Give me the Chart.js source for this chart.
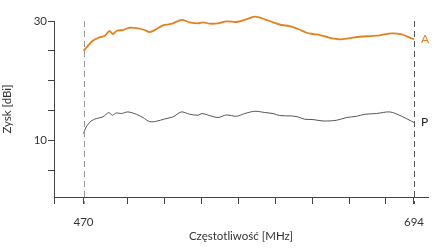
<!DOCTYPE html>
<html>
<head>
<meta charset="utf-8">
<script src="https://cdn.jsdelivr.net/npm/chart.js@4.4.1/dist/chart.umd.min.js"></script>
<style>
  html, body { margin: 0; padding: 0; background: #fff; }
  #wrap { width: 447px; height: 250px; }
</style>
</head>
<body>
<div id="wrap"><canvas id="chart"></canvas></div>
<script>
// krzywa A (pomarańczowa)
const freqA = [470, 476.3, 480.9, 484.3, 487.6, 489.9, 492.6, 496.7, 501.2, 506.9, 511.4, 514.8, 519.3, 523.8, 529.5,
  536.3, 542, 547.6, 551, 555.5, 561.2, 566.9, 573.7, 579.3, 586.1, 592.9, 598.5, 604.2, 609.8, 615.5, 621.2,
  625.6, 630.2, 637, 643.8, 650.6, 657.3, 664.1, 670.9, 678.9, 685.7, 692.4, 694];
const gainA = [25.0, 26.69, 27.26, 27.48, 28.32, 27.82, 28.37, 28.49, 28.87, 28.77, 28.49, 28.15, 28.61, 29.28, 29.5,
  30.17, 29.78, 29.61, 29.78, 29.55, 29.61, 29.95, 29.83, 30.17, 30.72, 30.29, 29.78, 29.33, 29.16, 28.66, 28.03,
  27.82, 27.65, 27.19, 26.92, 27.14, 27.36, 27.48, 27.6, 27.93, 27.76, 27.09, 26.97];

// krzywa P (szara)
const freqP = [470, 471.8, 475.2, 478.6, 483.1, 487.2, 489.5, 492.2, 495.6, 500.1, 505.8, 510.3, 514.8, 519.3, 525,
  530.6, 536.3, 542, 547.6, 550.3, 555.5, 561.2, 566.9, 573.7, 579.3, 586.1, 592.9, 598.5, 603, 611, 615.5, 620,
  625.6, 632.4, 641.5, 648.3, 655.1, 660.7, 668.7, 677.7, 685.7, 692.4, 694];
const gainP = [11.13, 12.24, 13.24, 13.65, 13.92, 14.66, 14.2, 14.59, 14.49, 14.76, 14.37, 13.82, 13.14, 13.19, 13.58,
  13.92, 14.76, 14.37, 14.2, 14.49, 14.15, 13.82, 14.25, 14.03, 14.49, 14.87, 14.66, 14.49, 14.15, 14.08, 13.92, 13.53,
  13.48, 13.24, 13.36, 13.82, 14.03, 14.37, 14.49, 14.76, 14.03, 13.19, 13.0];

const seriesNames = ["A", "P"];
const markers = [470, 694];
const xTicks = [450, 470, 500, 525, 550, 575, 600, 625, 650, 675, 694];
const xLabels = [470, 694];
const yTicks = [5, 10, 15, 20, 25, 30];
const yLabels = [10, 30];

const toPoints = (xs, ys) => xs.map((x, i) => ({ x, y: ys[i] }));

const FONT = "Lato, 'Open Sans', sans-serif";
const TEXT = "#333";
const AXIS = "#444";

// pionowe linie przerywane + podpisy serii
const extras = {
  id: "extras",
  afterDatasetsDraw(chart) {
    const { ctx, scales: { x, y } } = chart;
    ctx.save();
    ctx.lineWidth = 1;
    ctx.setLineDash([6, 4]);
    markers.forEach((m, i) => {
      const px = Math.round(x.getPixelForValue(m)) + 0.5;
      ctx.strokeStyle = i === 0 ? "#999" : "#555";
      ctx.beginPath();
      ctx.moveTo(px, y.getPixelForValue(30));
      ctx.lineTo(px, y.bottom + 7);
      ctx.stroke();
    });
    ctx.setLineDash([]);
    ctx.font = "12px " + FONT;
    ctx.textBaseline = "middle";
    chart.data.datasets.forEach((ds, i) => {
      const last = ds.data[ds.data.length - 1];
      ctx.fillStyle = ds.labelColor;
      ctx.fillText(seriesNames[i], x.getPixelForValue(last.x) + 7, y.getPixelForValue(last.y));
    });
    ctx.restore();
  }
};

new Chart(document.getElementById("chart"), {
  type: "line",
  data: {
    datasets: [
      {
        label: seriesNames[0],
        data: toPoints(freqA, gainA),
        borderColor: "#E3801F",
        labelColor: "#E3801F",
        borderWidth: 1.8,
        pointRadius: 0,
        tension: 0.3,
        clip: false
      },
      {
        label: seriesNames[1],
        data: toPoints(freqP, gainP),
        borderColor: "#555",
        labelColor: "#222",
        borderWidth: 1,
        pointRadius: 0,
        tension: 0.3,
        clip: false
      }
    ]
  },
  options: {
    responsive: true,
    maintainAspectRatio: false,
    animation: false,
    layout: { padding: { left: 0, right: 19, top: 21, bottom: 0 } },
    plugins: { legend: { display: false }, tooltip: { enabled: false } },
    scales: {
      x: {
        type: "linear",
        min: 450,
        max: 703.5,
        afterBuildTicks: s => { s.ticks = xTicks.map(v => ({ value: v })); },
        afterFit: s => { s.height = 53; },
        grid: { drawOnChartArea: false, drawTicks: true, tickLength: 7, color: AXIS },
        border: { color: AXIS },
        ticks: {
          autoSkip: false,
          maxRotation: 0,
          padding: 11,
          color: TEXT,
          font: { family: FONT, size: 11.5 },
          callback: v => xLabels.includes(v) ? String(v) : ""
        },
        title: {
          display: true,
          text: "Częstotliwość [MHz]",
          color: TEXT,
          font: { family: FONT, size: 11.5 },
          padding: { top: 0, bottom: 7 }
        }
      },
      y: {
        min: 0.5,
        max: 30,
        afterBuildTicks: s => { s.ticks = yTicks.map(v => ({ value: v })); },
        afterFit: s => { s.width = 54; },
        grid: { drawOnChartArea: false, drawTicks: true, tickLength: 6, color: AXIS },
        border: { color: AXIS },
        ticks: {
          padding: 1,
          color: TEXT,
          font: { family: FONT, size: 11.5 },
          callback: v => yLabels.includes(v) ? String(v) : ""
        },
        title: {
          display: true,
          text: "Zysk [dBi]",
          color: TEXT,
          font: { family: FONT, size: 11.5 },
          padding: { top: 0, bottom: 1 }
        }
      }
    }
  },
  plugins: [extras]
});
</script>
</body>
</html>
